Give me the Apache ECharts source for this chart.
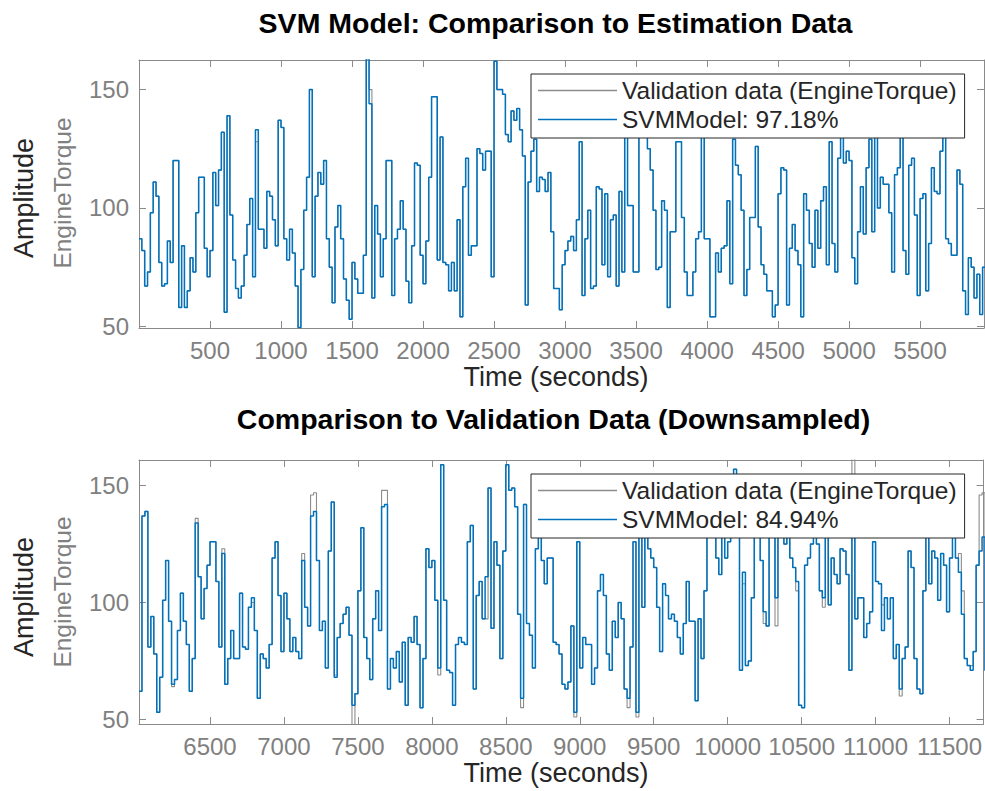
<!DOCTYPE html>
<html>
<head>
<meta charset="utf-8">
<script src="https://cdn.jsdelivr.net/npm/echarts@6/dist/echarts.min.js"></script>
<style>html,body{margin:0;padding:0;background:#fff}#c{width:985px;height:791px}</style>
</head>
<body>
<div id="c"></div>
<script>
// ---- data (stair signals, one value per 20 s) ----
const stepSec = 20;
const topStart = 0;
const botStart = 6020;

const topModel = [
  87,82,67,73,98,111,105,77,67,68,86,77,120,120,58,84,58,65,79,73,98,113,113,83,71,
  82,115,101,116,132,56,139,97,78,66,62,67,80,93,104,71,133,91,91,83,107,105,95,84,137,
  134,87,78,91,81,67,49.5,74,99,113,150,71,105,115,110,120,87,75,60,92,101,87,70,61,53,
  77,70,64,64,80,163,144,62,101,89,71,87,120,120,63,87,91,103,91,69,60,84,119,118,80,
  68,86,113,147,147,78,130,77,76,65,77,65,95,54,109,121,80,84,84,125,123,116,124,124,71,
  162,150,150,148,131,128,141,137,142,133,122,59,111,124,129,107,113,112,107,115,90,66,66,57,76,
  82,86,88,82,95,128,63,87,99,66,67,109,108,76,106,71,95,97,67,107,73,130,101,101,73,
  73,130,130,130,125,116,99,74,75,103,99,58,90,90,128,128,96,73,63,63,73,87,90,130,87,
  87,54,54,81,73,83,84,103,68,129,118,114,99,63,74,96,96,126,92,76,72,65,65,54,59,
  106,117,116,59,83,93,82,76,54,106,99,85,75,99,83,103,109,76,128,85,73,121,135,119,124,
  120,79,68,90,109,89,117,129,90,140,100,113,110,110,98,73,114,117,140,82,72,118,121,97,63,
  104,106,65,85,117,107,106,124,140,87,85,80,80,116,110,65,55,79,75,62,72,55,75
];
// [sample index, validation value] where the measured data differs visibly from the model
const topValidationDiff = [[41,128],[81,150]];

const botModel = [
  62,137,139,81,94,78,53,68,101,118,
  92,65,67,88,104,92,82,62,76,134,
  111,93,106,116,126,126,109,81,121,65,
  76,88,76,76,104,81,80,98,102,88,
  59,78,76,72,82,119,126,103,79,104,
  93,79,85,79,76,118,98,90,137,139,
  118,88,92,72,122,143,68,85,91,95,
  98,86,56,61,105,132,85,76,67,93,
  105,88,141,142,63,76,72,79,66,83,
  56,85,83,94,82,55,76,123,115,118,
  101,72,159,101,71,70,56,82,85,83,
  82,126,133,63,103,109,93,111,149,89,
  126,116,76,122,159,148,149,141,95,59,
  142,91,86,72,123,135,118,108,119,119,
  83,82,78,65,63,66,90,53,126,72,
  85,82,82,65,72,105,112,103,78,71,
  92,85,100,93,63,59,81,126,53,128,
  98,140,123,119,115,98,79,108,103,93,
  95,92,85,78,91,109,92,92,58,93,
  76,105,135,130,140,119,112,132,119,126,
  135,157,128,71,113,73,75,102,135,130,
  118,96,90,135,130,102,130,138,125,132,
  119,115,109,56,55,116,119,125,130,125,
  105,102,130,99,119,112,108,123,122,112,
  71,140,93,102,102,85,91,96,126,109,
  108,88,102,93,102,76,82,63,76,81,
  122,115,76,63,61,105,135,108,122,119,
  101,121,116,96,119,135,119,113,95,76,
  73,71,79,116,122,128,71
];
const botValidationDiff = [
  [11,64],[19,136],[28,123],[38,100],[55,121],[58,146],[59,147],[66,69],[72,44],
  [82,148],[83,148],[101,69],[117,93],[129,55],[147,51],[165,55],[168,51],
  [204,108],[211,91],[215,90],[222,105],[231,98],[241,162],[251,99],[257,60],
  [277,121],[278,105],[281,73],[284,146],[285,147]
];

const topTicks = [500,1000,1500,2000,2500,3000,3500,4000,4500,5000,5500];
const botTicks = [6500,7000,7500,8000,8500,9000,9500,10000,10500,11000,11500];
const yTicks = [50,100,150];

const topRange = {xmin:0, xmax:5950, ymin:49.3, ymax:162.5};
const botRange = {xmin:6020, xmax:11730, ymin:48, ymax:161};

const legendNames = ['Validation data (EngineTorque)', 'SVMModel: 97.18%', 'SVMModel: 84.94%'];

// ---- build ----
function withDiff(vals, diffs){ const a = vals.slice(); diffs.forEach(d => { a[d[0]] = d[1]; }); return a; }
function toPairs(vals, t0){
  const p = vals.map((v,i) => [t0 + i*stepSec, v]);
  p.push([t0 + vals.length*stepSec, vals[vals.length-1]]);
  return p;
}

const FONT = '"Liberation Sans", Arial, Helvetica, sans-serif';
const AX = '#8a8a8a';
const LAB = '#808080';
const DARK = '#262626';
const BLUE = '#0072BD';
const GRAY = '#8c8c8c';

function xAx(grid, pos, r, ticks, labels){
  return {
    type:'value', gridIndex:grid, position:pos, min:r.xmin, max:r.xmax,
    axisLine:{show:true, onZero:false, lineStyle:{color:AX, width:1}},
    axisTick:{show:true, inside:true, length:7, customValues:ticks, lineStyle:{color:AX}},
    axisLabel:{show:labels, customValues:ticks, color:LAB, fontSize:24, fontFamily:FONT, margin:10,
               formatter:v => String(v)},
    splitLine:{show:false}
  };
}
function yAx(grid, pos, r, labels){
  return {
    type:'value', gridIndex:grid, position:pos, min:r.ymin, max:r.ymax,
    axisLine:{show:true, onZero:false, lineStyle:{color:AX, width:1}},
    axisTick:{show:true, inside:true, length:7, customValues:yTicks, lineStyle:{color:AX}},
    axisLabel:{show:labels, customValues:yTicks, color:LAB, fontSize:24, fontFamily:FONT, margin:10,
               formatter:v => String(v)},
    splitLine:{show:false}
  };
}
function lineSeries(name, data, xi, yi, color, width, z){
  return {
    name, type:'line', step:'end', data, xAxisIndex:xi, yAxisIndex:yi,
    symbol:'none', showSymbol:false, clip:true, z,
    lineStyle:{color, width}, itemStyle:{color}, emphasis:{disabled:true}
  };
}
function legendBox(top, names){
  return {
    data:names, orient:'vertical', left:531, top:top,
    icon:'rect', itemWidth:79, itemHeight:1.5, itemGap:4,
    padding:[4,8,6,7],
    backgroundColor:'#ffffff', borderColor:DARK, borderWidth:1, borderRadius:0,
    selectedMode:false,
    textStyle:{fontSize:24.5, color:DARK, fontFamily:FONT}
  };
}
function txt(text, x, y, size, color, weight, rot){
  return {
    type:'text', x, y, rotation:rot || 0, z:100,
    style:{text, fontSize:size, fontWeight:weight || 'normal', fontFamily:FONT, fill:color,
           align:'center', verticalAlign:'middle'}
  };
}

const topVal = withDiff(topModel, topValidationDiff);
const botVal = withDiff(botModel, botValidationDiff);

const chart = echarts.init(document.getElementById('c'), null, {renderer:'svg'});
chart.setOption({
  animation:false,
  backgroundColor:'#ffffff',
  grid:[
    {left:139, top:60, width:845, height:268, containLabel:false},
    {left:139, top:460, width:845, height:264, containLabel:false}
  ],
  xAxis:[
    xAx(0,'bottom',topRange,topTicks,true),
    xAx(0,'top',topRange,topTicks,false),
    xAx(1,'bottom',botRange,botTicks,true),
    xAx(1,'top',botRange,botTicks,false)
  ],
  yAxis:[
    yAx(0,'left',topRange,true),
    yAx(0,'right',topRange,false),
    yAx(1,'left',botRange,true),
    yAx(1,'right',botRange,false)
  ],
  legend:[
    legendBox(74,[legendNames[0],legendNames[1]]),
    legendBox(474,[legendNames[0],legendNames[2]])
  ],
  series:[
    lineSeries(legendNames[0], toPairs(topVal, topStart), 0, 0, GRAY, 1.1, 2),
    lineSeries(legendNames[1], toPairs(topModel, topStart), 0, 0, BLUE, 1.5, 3),
    lineSeries(legendNames[0], toPairs(botVal, botStart), 2, 2, GRAY, 1.1, 2),
    lineSeries(legendNames[2], toPairs(botModel, botStart), 2, 2, BLUE, 1.5, 3)
  ],
  graphic:[
    txt('SVM Model: Comparison to Estimation Data', 555.5, 23, 28.5, '#000000', 'bold'),
    txt('Comparison to Validation Data (Downsampled)', 553.5, 419, 28.5, '#000000', 'bold'),
    txt('Time (seconds)', 556, 376.5, 27, DARK),
    txt('Time (seconds)', 556, 772.5, 27, DARK),
    txt('Amplitude', 24, 198, 27, DARK, 'normal', Math.PI/2),
    txt('EngineTorque', 62, 193, 24.5, LAB, 'normal', Math.PI/2),
    txt('Amplitude', 24, 597, 27, DARK, 'normal', Math.PI/2),
    txt('EngineTorque', 62, 592, 24.5, LAB, 'normal', Math.PI/2)
  ]
});
</script>
</body>
</html>
